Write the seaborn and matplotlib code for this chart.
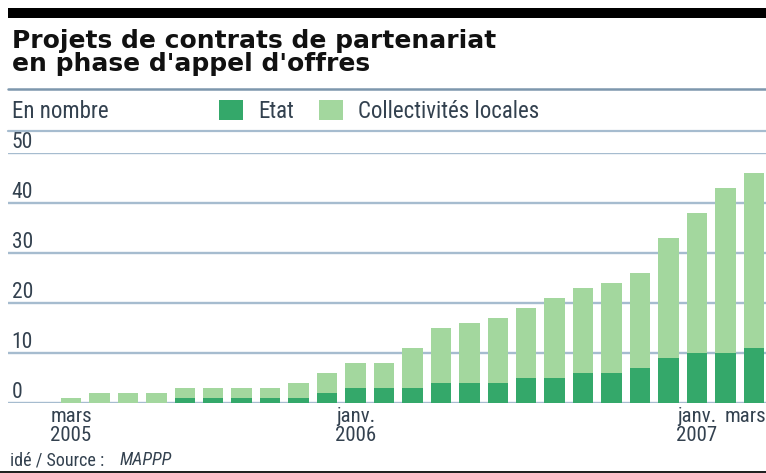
import matplotlib
matplotlib.use("Agg")
import matplotlib.pyplot as plt
from matplotlib import font_manager
import matplotlib.transforms as mtransforms
from matplotlib.patches import Patch, Rectangle
from matplotlib.lines import Line2D
import seaborn as sns
import pandas as pd

# ---------------- data ----------------
mois = ["mars 2005", "avr. 2005", "mai 2005", "juin 2005", "juil. 2005",
        "août 2005", "sept. 2005", "oct. 2005", "nov. 2005", "déc. 2005",
        "janv. 2006", "févr. 2006", "mars 2006", "avr. 2006", "mai 2006",
        "juin 2006", "juil. 2006", "août 2006", "sept. 2006", "oct. 2006",
        "nov. 2006", "déc. 2006", "janv. 2007", "févr. 2007", "mars 2007"]
etat = [0, 0, 0, 0, 1, 1, 1, 1, 1, 2, 3, 3, 3, 4, 4, 4, 5, 5, 6, 6, 7, 9, 10, 10, 11]
collectivites = [1, 2, 2, 2, 2, 2, 2, 2, 3, 4, 5, 5, 8, 11, 12, 13, 14, 16, 17, 18,
                 19, 24, 28, 33, 35]
tick_pos = [0, 10, 22, 24]
tick_labels = ["mars\n2005", "janv.\n2006", "janv.\n2007", "mars"]
y_ticks = [0, 10, 20, 30, 40, 50]
series_names = ["Etat", "Collectivités locales"]
title = "Projets de contrats de partenariat\nen phase d'appel d'offres"
unit = "En nombre"
source_a = "idé / Source :"
source_b = "MAPPP"

total = [e + c for e, c in zip(etat, collectivites)]
df = pd.DataFrame({"mois": mois, "etat": etat, "total": total})

# ---------------- style ----------------
sns.set_theme(style="white")
available = {f.name for f in font_manager.fontManager.ttflist}
narrow = [f for f in ["Liberation Sans Narrow", "Roboto Condensed", "Liberation Sans", "DejaVu Sans"]
          if f in available] or ["DejaVu Sans"]
plt.rcParams["font.family"] = narrow

DARK = "#34a86a"
LIGHT = "#a3d79e"
TXT = "#33414f"
GRID = "#a6bccf"

W, H = 766, 473
fig = plt.figure(figsize=(W / 100, H / 100), dpi=100)
fig.patch.set_facecolor("white")

def fx(px):
    return px / W

def fy(py):
    return 1 - py / H

y0, y50 = 402.7, 153.3
ax = fig.add_axes([fx(8), fy(y0), fx(758), (y0 - y50) / H])

sns.barplot(data=df, x="mois", y="total", order=mois, color=LIGHT, saturation=1,
            width=0.72, ax=ax, zorder=2, edgecolor="none", linewidth=0)
sns.barplot(data=df, x="mois", y="etat", order=mois, color=DARK, saturation=1,
            width=0.72, ax=ax, zorder=3, edgecolor="none", linewidth=0)

spacing = 28.45
first = 71
ax.set_xlim((8 - first) / spacing, (766 - first) / spacing)
ax.set_ylim(0, 50)
ax.set_yticks(y_ticks)
ax.set_yticklabels([])
ax.yaxis.grid(True, color=GRID, lw=1.7)
ax.xaxis.grid(False)
ax.set_axisbelow(True)
for s in ax.spines.values():
    s.set_visible(False)
ax.tick_params(axis="both", length=0)
ax.set_xlabel("")
ax.set_ylabel("")
ax.set_xticks(tick_pos)
ax.set_xticklabels(tick_labels, fontsize=15, color=TXT, linespacing=1.0, va="top")
ax.tick_params(axis="x", pad=3)
ax.set_facecolor("none")
# last label ("mars") : keep it inside the figure, as in the reference
last = ax.get_xticklabels()[-1]
last.set_ha("right")
last.set_transform(last.get_transform() +
                   mtransforms.ScaledTranslation(12 / 100, 0, fig.dpi_scale_trans))

for v in y_ticks:
    ax.annotate(str(v), xy=(0.005, v), xycoords=("axes fraction", "data"),
                xytext=(0, 0), textcoords="offset points", ha="left", va="bottom",
                fontsize=15.5, color=TXT, annotation_clip=False)

# ---------------- decorations ----------------
fig.add_artist(Rectangle((fx(8), fy(18)), 1 - fx(8), 10 / H, transform=fig.transFigure,
                         color="black", lw=0))
fig.add_artist(Rectangle((0, 0), 1, 2.5 / H, transform=fig.transFigure,
                         color="#222222", lw=0))
fig.add_artist(Line2D([fx(8), 1], [fy(89.5), fy(89.5)], transform=fig.transFigure,
                      color="#7d97ad", lw=1.8))
fig.add_artist(Line2D([fx(8), 1], [fy(131.5), fy(131.5)], transform=fig.transFigure,
                      color=GRID, lw=1.6))

fig.text(fx(12), fy(29), title, ha="left", va="top", fontsize=18, fontweight="bold",
         family=["DejaVu Sans"], color="#111111", linespacing=0.95)
fig.text(fx(12), fy(111.5), unit, ha="left", va="center", fontsize=16.5, color=TXT)
fig.text(fx(10), fy(460), source_a, ha="left", va="center", fontsize=13, color=TXT)
fig.text(fx(120), fy(460), source_b, ha="left", va="center", fontsize=13, color=TXT,
         style="italic")

handles = [Patch(facecolor=DARK, edgecolor="none"), Patch(facecolor=LIGHT, edgecolor="none")]
fig.legend(handles, series_names, loc="center left", bbox_to_anchor=(fx(219), fy(111.5)),
           ncol=2, frameon=False, fontsize=16.5, handlelength=1.05, handleheight=1.0,
           handletextpad=0.65, columnspacing=1.1, borderpad=0, borderaxespad=0,
           labelcolor=TXT)

fig.savefig("out.png", dpi=100, facecolor="white")
